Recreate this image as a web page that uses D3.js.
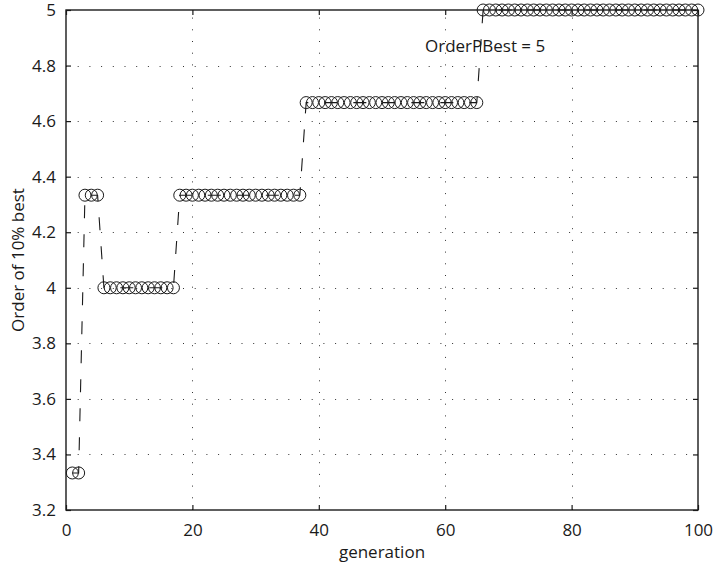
<!DOCTYPE html>
<html>
<head>
<meta charset="utf-8">
<script src="https://cdn.jsdelivr.net/npm/d3@7"></script>
<style>
  html, body { margin: 0; padding: 0; background: #fff; }
  svg { display: block; }
  text { font-family: "Open Sans", "Noto Sans", sans-serif; fill: #1a1a1a; }
</style>
</head>
<body>
<svg id="chart" width="716" height="565"></svg>
<script>
// Order of the best 10% of the population, one value per generation
const orderBest = [
  3.3333, 3.3333,
  4.3333, 4.3333, 4.3333,
  4, 4, 4, 4, 4, 4, 4, 4, 4, 4, 4, 4,
  4.3333, 4.3333, 4.3333, 4.3333, 4.3333, 4.3333, 4.3333, 4.3333, 4.3333, 4.3333,
  4.3333, 4.3333, 4.3333, 4.3333, 4.3333, 4.3333, 4.3333, 4.3333, 4.3333, 4.3333,
  4.6667, 4.6667, 4.6667, 4.6667, 4.6667, 4.6667, 4.6667, 4.6667, 4.6667, 4.6667,
  4.6667, 4.6667, 4.6667, 4.6667, 4.6667, 4.6667, 4.6667, 4.6667, 4.6667, 4.6667,
  4.6667, 4.6667, 4.6667, 4.6667, 4.6667, 4.6667, 4.6667, 4.6667,
  5, 5, 5, 5, 5, 5, 5, 5, 5, 5,
  5, 5, 5, 5, 5, 5, 5, 5, 5, 5,
  5, 5, 5, 5, 5, 5, 5, 5, 5, 5,
  5, 5, 5, 5, 5
];
const generations = orderBest.map((_, i) => i + 1);

const xTicks = [0, 20, 40, 60, 80, 100];
const yTicks = [3.2, 3.4, 3.6, 3.8, 4, 4.2, 4.4, 4.6, 4.8, 5];
const xLabel = "generation";
const yLabel = "Order of 10% best";
const noteText = "OrderPBest = 5";
const notePos = [56.8, 4.85];

const svg = d3.select("#chart");
const plotL = 66, plotR = 698, plotT = 10, plotB = 510;

const x = d3.scaleLinear().domain([0, 100]).range([plotL, plotR]);
const y = d3.scaleLinear().domain([3.2, 5]).range([plotB, plotT]);

// dotted grid
const grid = svg.append("g")
  .attr("stroke", "#333")
  .attr("stroke-width", 1)
  .attr("stroke-dasharray", "1,10.7");
grid.selectAll(".gx").data(xTicks.slice(1, -1)).join("line")
  .attr("x1", d => Math.round(x(d)) + 0.5).attr("x2", d => Math.round(x(d)) + 0.5)
  .attr("y1", plotB).attr("y2", plotT);
grid.selectAll(".gy").data(yTicks.slice(1, -1)).join("line")
  .attr("y1", d => Math.round(y(d)) + 0.5).attr("y2", d => Math.round(y(d)) + 0.5)
  .attr("x1", plotL).attr("x2", plotR);

// axes: bottom/left with labels, top/right mirrored, ticks pointing inward
const axisStyle = g => {
  g.select(".domain").remove();
  g.selectAll(".tick line").attr("stroke", "#1a1a1a").attr("stroke-width", 1.2);
  g.selectAll(".tick text").attr("font-size", 17).attr("fill", "#1a1a1a");
};

svg.append("g")
  .attr("transform", `translate(0,${plotB})`)
  .call(d3.axisBottom(x).tickValues(xTicks).tickSize(-5).tickPadding(10).tickFormat(d3.format("d")))
  .call(axisStyle)
  .call(g => g.selectAll(".tick text").attr("dy", "0.95em"));
svg.append("g")
  .attr("transform", `translate(0,${plotT})`)
  .call(d3.axisTop(x).tickValues(xTicks).tickSize(-5).tickFormat(""))
  .call(axisStyle);
svg.append("g")
  .attr("transform", `translate(${plotL},0)`)
  .call(d3.axisLeft(y).tickValues(yTicks).tickSize(-5).tickPadding(10).tickFormat(d => d3.format("~g")(d)))
  .call(axisStyle);
svg.append("g")
  .attr("transform", `translate(${plotR},0)`)
  .call(d3.axisRight(y).tickValues(yTicks).tickSize(-5).tickFormat(""))
  .call(axisStyle);

// plot box
svg.append("rect")
  .attr("x", plotL).attr("y", plotT)
  .attr("width", plotR - plotL).attr("height", plotB - plotT)
  .attr("fill", "none").attr("stroke", "#1a1a1a").attr("stroke-width", 1.4);

// dashed series line
const line = d3.line()
  .x((d, i) => x(generations[i]))
  .y(d => y(d));
svg.append("path")
  .datum(orderBest)
  .attr("d", line)
  .attr("fill", "none")
  .attr("stroke", "#1a1a1a")
  .attr("stroke-width", 1.1)
  .attr("stroke-dasharray", "13,16");

// circle markers
svg.append("g").selectAll("circle")
  .data(orderBest)
  .join("circle")
  .attr("cx", (d, i) => x(generations[i]))
  .attr("cy", d => y(d))
  .attr("r", 6)
  .attr("fill", "none")
  .attr("stroke", "#1a1a1a")
  .attr("stroke-width", 1);

// annotation
svg.append("text")
  .attr("x", x(notePos[0]))
  .attr("y", y(notePos[1]))
  .attr("font-size", 17)
  .text(noteText);

// axis titles
svg.append("text")
  .attr("x", (plotL + plotR) / 2)
  .attr("y", 558)
  .attr("text-anchor", "middle")
  .attr("font-size", 17)
  .text(xLabel);
svg.append("text")
  .attr("transform", `translate(24,${(plotT + plotB) / 2}) rotate(-90)`)
  .attr("text-anchor", "middle")
  .attr("font-size", 17)
  .text(yLabel);
</script>
</body>
</html>
